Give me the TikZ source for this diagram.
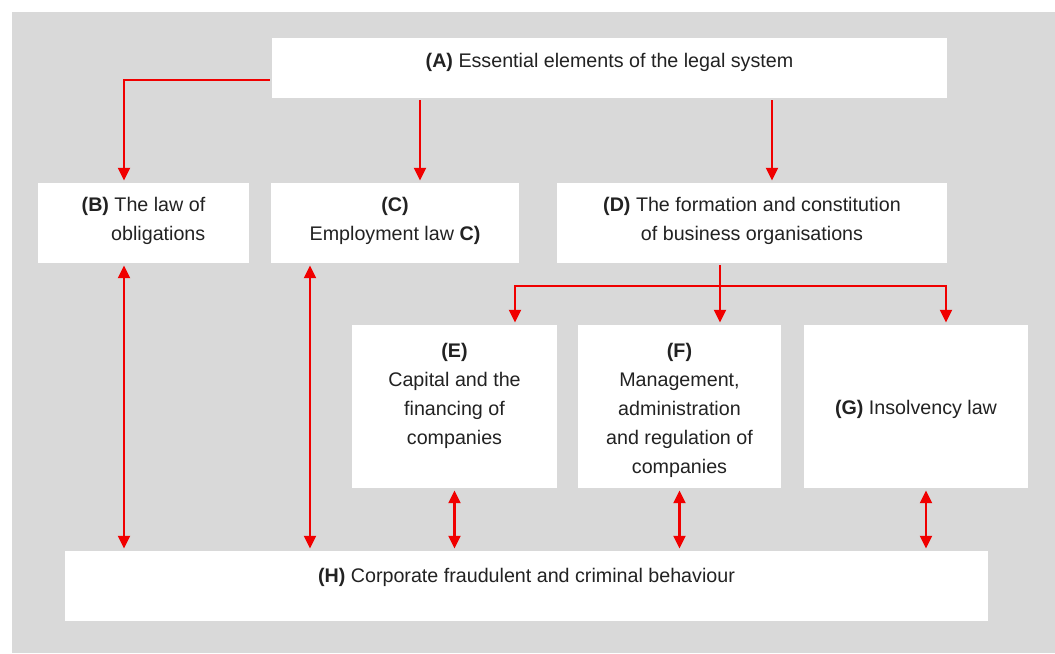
\documentclass[tikz,border=0pt]{standalone}
\usepackage{fontspec}
\setmainfont{Liberation Sans}
\usepackage{tikz}
\usetikzlibrary{arrows.meta}
\definecolor{panel}{HTML}{D9D9D9}
\definecolor{ink}{HTML}{222222}
\definecolor{linkred}{HTML}{F00000}

\begin{document}
\begin{tikzpicture}[-,>={Triangle[length=9pt,width=8.5pt]},shorten >=1pt,shorten <=1pt,line width=1.5pt,
  box node/.style={rectangle,fill=white,draw=none,inner sep=0pt,align=center,text=ink,
    font=\fontsize{14}{20.6}\selectfont,text height=0.7cm},
  link/.style={draw=linkred}]
  \useasboundingbox (0,0) rectangle (26.375,-16.325);
  \fill[panel] (0.3,-0.3) rectangle (26.375,-16.325);

  \node[box node,minimum width=16.875cm,minimum height=1.5cm,text height=0.725cm,text depth=0.775cm] (A) at (15.2375,-1.7) {\textbf{(A)} Essential elements of the legal system};
  \node[box node,align=right,minimum width=5.275cm,minimum height=2cm,text height=1.425cm,text depth=0.575cm] (B) at (3.5875,-5.575) {\textbf{(B)} The law of\\obligations};
  \node[box node,minimum width=6.2cm,minimum height=2cm,text height=1.425cm,text depth=0.575cm] (C) at (9.875,-5.575) {\textbf{(C)}\\Employment law \textbf{C)}};
  \node[box node,minimum width=9.75cm,minimum height=2cm,text height=1.425cm,text depth=0.575cm] (D) at (18.8,-5.575) {\textbf{(D)} The formation and constitution\\of business organisations};
  \node[box node,minimum width=5.125cm,minimum height=4.075cm,text height=2.975cm,text depth=1.1cm] (E) at (11.3625,-10.1625) {\textbf{(E)}\\Capital and the\\financing of\\companies};
  \node[box node,minimum width=5.075cm,minimum height=4.075cm,text height=3.7cm,text depth=0.375cm] (F) at (16.9875,-10.1625) {\textbf{(F)}\\Management,\\administration\\and regulation of\\companies};
  \node[box node,minimum width=5.6cm,minimum height=4.075cm,text height=2.225cm,text depth=1.85cm] (G) at (22.9,-10.1625) {\textbf{(G)} Insolvency law};
  \node[box node,minimum width=23.075cm,minimum height=1.75cm,text height=0.775cm,text depth=0.975cm] (H) at (13.1625,-14.65) {\textbf{(H)} Corporate fraudulent and criminal behaviour};

  % A down to B, C, D
  \draw[link,->] ([yshift=-3mm]A.west) -| ([xshift=-4.875mm]B.north);
  \path[every edge/.style={link,draw}]
    ([xshift=6.25mm]C.north |- A.south) edge[->] ([xshift=6.25mm]C.north)
    ([xshift=5mm]D.north |- A.south) edge[->] ([xshift=5mm]D.north);

  % D down to E, F, G
  \coordinate (split) at ([xshift=-8mm,yshift=-5.5mm]D.south);
  \draw[link,->] ([xshift=-8mm]D.south) -- ([xshift=-8mm]D.south |- F.north);
  \draw[link,->] (split) -| ([xshift=15.125mm]E.north);
  \draw[link,->] (split) -| ([xshift=7.5mm]G.north);

  % both ways with H
  \path[every edge/.style={link,draw}]
    ([xshift=-4.875mm]B.south) edge[<->] ([xshift=-4.875mm]B.south |- H.north)
    ([xshift=-21.25mm]C.south) edge[<->] ([xshift=-21.25mm]C.south |- H.north)
    (E.south) edge[<->] (E.south |- H.north)
    (F.south) edge[<->] (F.south |- H.north)
    ([xshift=2.5mm]G.south) edge[<->] ([xshift=2.5mm]G.south |- H.north);
\end{tikzpicture}
\end{document}
